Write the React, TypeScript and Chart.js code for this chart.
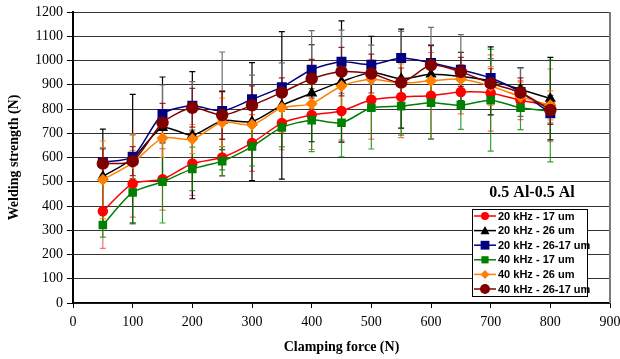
import React, { useEffect, useRef } from 'react';
import { Chart, registerables } from 'chart.js';
Chart.register(...registerables);

const forces = [50, 100, 150, 200, 250, 300, 350, 400, 450, 500, 550, 600, 650, 700, 750, 800];
const xTicks = [0, 100, 200, 300, 400, 500, 600, 700, 800, 900];
const yTicks = [0, 100, 200, 300, 400, 500, 600, 700, 800, 900, 1000, 1100, 1200];

const labels = ['20 kHz - 17 um', '20 kHz - 26 um', '20 kHz - 26-17 um', '40 kHz - 17 um', '40 kHz - 26 um', '40 kHz - 26-17 um'];

const s20_17 = [378, 492, 510, 575, 600, 660, 742, 775, 792, 838, 850, 855, 870, 866, 836, 815];
const s20_26 = [522, 595, 723, 692, 752, 748, 815, 865, 913, 950, 925, 943, 934, 916, 881, 843];
const s20_2617 = [580, 603, 779, 813, 792, 840, 890, 962, 995, 983, 1010, 990, 962, 928, 870, 782];
const s40_17 = [322, 456, 500, 553, 585, 645, 724, 754, 743, 805, 812, 826, 816, 836, 805, 792];
const s40_26 = [508, 578, 680, 676, 745, 735, 805, 822, 895, 923, 906, 916, 923, 895, 851, 815];
const s40_2617 = [575, 585, 743, 805, 775, 815, 868, 925, 954, 946, 909, 981, 953, 906, 868, 796];

const e20_17 = [153, 138, 127, 131, 77, 117, 110, 142, 120, 162, 168, 178, 90, 157, 80, 150];
const e20_26 = [195, 265, 209, 262, 120, 243, 304, 200, 250, 150, 204, 120, 100, 140, 90, 170];
const e20_2617 = [60, 90, 120, 100, 243, 100, 100, 161, 130, 80, 110, 147, 145, 80, 100, 40];
const e40_17 = [50, 130, 170, 90, 60, 80, 80, 130, 140, 170, 120, 150, 100, 210, 90, 210];
const e40_26 = [160, 120, 80, 60, 100, 90, 100, 80, 100, 80, 80, 80, 60, 80, 60, 60];
const e40_2617 = [60, 60, 80, 80, 100, 80, 60, 80, 100, 80, 60, 80, 60, 60, 60, 60];

const titleText = '0.5 Al-0.5 Al';

export default function App() {
  const ref = useRef<HTMLCanvasElement>(null);
  useEffect(() => {
    document.body.style.margin = '0';
    const defs = [
      { label: labels[0], data: s20_17, err: e20_17, color: '#ff0000', errColor: 'rgba(255,60,60,0.75)', style: 'circle', r: 4.5 },
      { label: labels[1], data: s20_26, err: e20_26, color: '#000000', errColor: '#000000', style: 'triangle', r: 5 },
      { label: labels[2], data: s20_2617, err: e20_2617, color: '#000080', errColor: '#6e6e6e', style: 'rect', r: 6 },
      { label: labels[3], data: s40_17, err: e40_17, color: '#008000', errColor: 'rgba(0,140,0,0.8)', style: 'rect', r: 5 },
      { label: labels[4], data: s40_26, err: e40_26, color: '#ff8000', errColor: 'rgba(255,128,0,0.8)', style: 'rectRot', r: 5 },
      { label: labels[5], data: s40_2617, err: e40_2617, color: '#800000', errColor: 'rgba(128,0,0,0.8)', style: 'circle', r: 5.5 },
    ];

    const errorPlugin = {
      id: 'errbars',
      beforeDatasetsDraw(chart: any) {
        const { ctx, scales } = chart;
        const x = scales.x, y = scales.y;
        ctx.save();
        defs.forEach((d) => {
          ctx.strokeStyle = d.errColor;
          ctx.lineWidth = 1.2;
          d.data.forEach((v, j) => {
            const px = x.getPixelForValue(forces[j]);
            const top = y.getPixelForValue(v + d.err[j]);
            const bot = y.getPixelForValue(Math.max(0, v - d.err[j]));
            ctx.beginPath();
            ctx.moveTo(px, top); ctx.lineTo(px, bot);
            ctx.moveTo(px - 3, top); ctx.lineTo(px + 3, top);
            ctx.moveTo(px - 3, bot); ctx.lineTo(px + 3, bot);
            ctx.stroke();
          });
        });
        ctx.restore();
      },
    };

    const drawMarker = (ctx: CanvasRenderingContext2D, style: string, cx: number, cy: number, r: number) => {
      ctx.beginPath();
      if (style === 'circle') {
        ctx.arc(cx, cy, r, 0, Math.PI * 2);
      } else if (style === 'triangle') {
        ctx.moveTo(cx, cy - r);
        ctx.lineTo(cx + r, cy + r * 0.8);
        ctx.lineTo(cx - r, cy + r * 0.8);
        ctx.closePath();
      } else if (style === 'rect') {
        ctx.rect(cx - r * 0.8, cy - r * 0.8, r * 1.6, r * 1.6);
      } else {
        ctx.moveTo(cx, cy - r);
        ctx.lineTo(cx + r, cy);
        ctx.lineTo(cx, cy + r);
        ctx.lineTo(cx - r, cy);
        ctx.closePath();
      }
      ctx.fill();
    };

    const overlayPlugin = {
      id: 'overlay',
      afterDraw(chart: any) {
        const { ctx, chartArea } = chart;
        ctx.save();
        ctx.strokeStyle = '#7a7a7a';
        ctx.lineWidth = 2;
        ctx.beginPath();
        ctx.moveTo(chartArea.right, chartArea.top);
        ctx.lineTo(chartArea.right, chartArea.bottom);
        ctx.stroke();
        ctx.fillStyle = '#000';
        ctx.font = 'bold 16px "Liberation Serif"';
        ctx.textAlign = 'center';
        ctx.textBaseline = 'middle';
        ctx.fillText(titleText, 532, 193);
        const bx = 472, by = 209, bw = 115, bh = 87;
        ctx.fillStyle = '#fff';
        ctx.fillRect(bx, by, bw, bh);
        ctx.strokeStyle = '#000';
        ctx.lineWidth = 1;
        ctx.strokeRect(bx + 0.5, by + 0.5, bw, bh);
        ctx.font = 'bold 11px "Liberation Sans"';
        ctx.textAlign = 'left';
        defs.forEach((d, i) => {
          const yy = 216 + i * 14.6;
          ctx.strokeStyle = d.color;
          ctx.lineWidth = 1.5;
          ctx.beginPath();
          ctx.moveTo(474, yy);
          ctx.lineTo(496, yy);
          ctx.stroke();
          ctx.fillStyle = d.color;
          drawMarker(ctx, d.style, 485, yy, d.r - 0.5);
          ctx.fillStyle = '#000';
          ctx.fillText(d.label, 498, yy + 0.5);
        });
        ctx.restore();
      },
    };

    const chart = new Chart(ref.current!, {
      type: 'line',
      data: {
        datasets: defs.map((d, i) => ({
          label: d.label,
          data: forces.map((f, j) => ({ x: f, y: d.data[j] })),
          borderColor: d.color,
          backgroundColor: d.color,
          pointBackgroundColor: d.color,
          pointBorderColor: d.color,
          pointStyle: d.style as any,
          pointRadius: d.r,
          borderWidth: 1.5,
          tension: 0.25,
          order: 6 - i,
        })),
      },
      options: {
        animation: false,
        responsive: false,
        maintainAspectRatio: false,
        layout: { padding: { top: 12, right: 10, left: 0, bottom: 0 } },
        plugins: { legend: { display: false }, tooltip: { enabled: false } },
        scales: {
          x: {
            type: 'linear',
            min: 0,
            max: 900,
            afterBuildTicks: (s: any) => { s.ticks = xTicks.map((v) => ({ value: v })); },
            afterFit: (s: any) => { s.height = 56; s.paddingRight = 0; s.paddingLeft = 0; },
            grid: { drawOnChartArea: false, drawTicks: true, tickLength: 5, color: '#000', tickColor: '#000' },
            border: { display: true, color: '#000', width: 1.5 },
            ticks: { color: '#000', font: { family: '"Liberation Serif"', size: 14 }, padding: 6, maxRotation: 0, callback: (v: any) => String(v) },
            title: {
              display: true,
              text: 'Clamping force (N)',
              color: '#000',
              font: { family: '"Liberation Serif"', size: 14, weight: 'bold' },
              padding: { top: 0, bottom: 3 },
            },
          },
          y: {
            type: 'linear',
            min: 0,
            max: 1200,
            afterBuildTicks: (s: any) => { s.ticks = yTicks.map((v) => ({ value: v })); },
            afterFit: (s: any) => { s.width = 73; s.paddingTop = 0; s.paddingBottom = 0; },
            grid: {
              color: '#333',
              borderDash: [2, 1],
              tickBorderDash: [],
              tickColor: '#000',
              tickLength: 6,
              lineWidth: 1,
            },
            border: { display: true, color: '#000', width: 2 },
            ticks: { color: '#000', font: { family: '"Liberation Serif"', size: 14 }, padding: 4, callback: (v: any) => String(v) },
            title: {
              display: true,
              text: 'Welding strength (N)',
              color: '#000',
              font: { family: '"Liberation Serif"', size: 14, weight: 'bold' },
              padding: { top: 6, bottom: 0 },
            },
          },
        },
      },
      plugins: [errorPlugin, overlayPlugin],
    });
    return () => chart.destroy();
  }, []);

  return (
    <div style={{ position: 'fixed', left: 0, top: 0, width: 620, height: 359 }}>
      <canvas ref={ref} width={620} height={359} style={{ width: 620, height: 359 }} />
    </div>
  );
}
